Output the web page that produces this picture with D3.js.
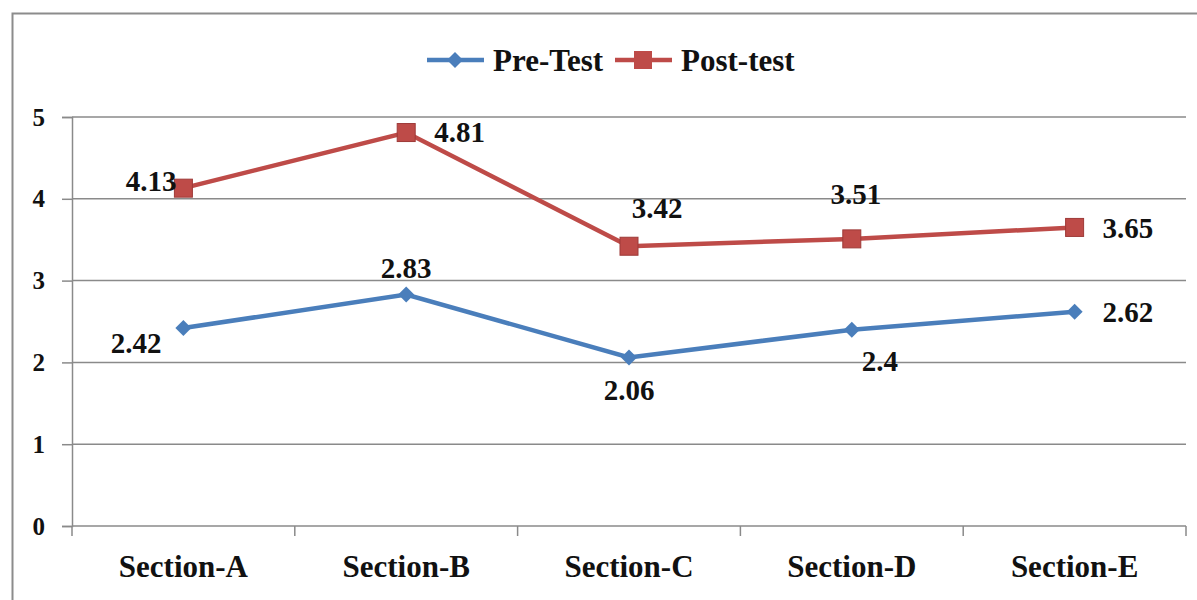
<!DOCTYPE html>
<html><head><meta charset="utf-8">
<script src="https://cdn.jsdelivr.net/npm/d3@7"></script>
<style>body{margin:0;background:#fff}svg{display:block}
svg text{font-family:"Liberation Serif","Times New Roman","DejaVu Serif",serif;font-weight:bold;fill:#111}</style>
</head><body>
<svg id="c" width="1197" height="600"></svg>
<script>
const categories = ["Section-A","Section-B","Section-C","Section-D","Section-E"];
const preTest = [2.42, 2.83, 2.06, 2.4, 2.62];
const postTest = [4.13, 4.81, 3.42, 3.51, 3.65];
const yTicks = [0,1,2,3,4,5];
const seriesNames = ["Pre-Test","Post-test"];
// label placement per point: [dx, dy, anchor]
const preLabelPos = [[-22,15,"end"],[0,-27,"middle"],[0,32,"middle"],[28,31,"middle"],[28,0,"start"]];
const postLabelPos = [[-7,-7,"end"],[28,-1,"start"],[28,-38,"middle"],[4,-45,"middle"],[28,0,"start"]];

const svg = d3.select("#c");
const m={l:72,r:1186,t:117,b:526};
const x = d3.scaleBand().domain(categories).range([m.l,m.r]);
const y = d3.scaleLinear().domain([0,5]).range([m.b,m.t]);
const blue="#4A7EBB", red="#BE4B48";

svg.append("rect").attr("x",12.5).attr("y",13.5).attr("width",1200).attr("height",600)
  .attr("fill","#fff").attr("stroke","#8c8c8c").attr("stroke-width",2);

// gridlines
svg.append("g").selectAll("line").data(yTicks.filter(d=>d>0)).join("line")
  .attr("x1",m.l).attr("x2",m.r).attr("y1",d=>y(d)).attr("y2",d=>y(d))
  .attr("stroke","#8a8a8a").attr("stroke-width",1.5);

// y axis
const ya = svg.append("g").attr("transform",`translate(${m.l},0)`)
  .call(d3.axisLeft(y).tickValues(yTicks).tickSize(10).tickPadding(17).tickFormat(d3.format("d")));
ya.attr("font-family",null).attr("font-size",null);
ya.select(".domain").attr("stroke","#8a8a8a").attr("stroke-width",1.5);
ya.selectAll(".tick line").attr("stroke","#8a8a8a").attr("stroke-width",1.5);
ya.selectAll("text").style("font-size","25px").attr("fill","#111");

// x axis
const xa = svg.append("g").attr("transform",`translate(0,${m.b})`)
  .call(d3.axisBottom(x).tickSize(0));
xa.attr("font-family",null).attr("font-size",null);
xa.select(".domain").remove();
xa.append("line").attr("x1",m.l).attr("x2",m.r).attr("stroke","#8a8a8a").attr("stroke-width",1.5);
xa.selectAll(".bt").data(d3.range(categories.length+1)).join("line").attr("class","bt")
  .attr("x1",i=>m.l+i*x.step()).attr("x2",i=>m.l+i*x.step()).attr("y1",0).attr("y2",10)
  .attr("stroke","#8a8a8a").attr("stroke-width",1.5);
xa.selectAll(".tick text").style("font-size","31px").attr("fill","#111").attr("y",51).attr("dy",null);

const cx = d=>x(d)+x.bandwidth()/2;
const line = d3.line().x(d=>cx(d.c)).y(d=>y(d.v));
const preData = categories.map((c,i)=>({c,v:preTest[i]}));
const postData = categories.map((c,i)=>({c,v:postTest[i]}));

svg.append("path").datum(preData).attr("d",line).attr("fill","none").attr("stroke",blue).attr("stroke-width",4.5);
svg.append("path").datum(postData).attr("d",line).attr("fill","none").attr("stroke",red).attr("stroke-width",4.5);

const diamond = (s)=>`M0,${-s}L${s},0L0,${s}L${-s},0Z`;
svg.append("g").selectAll("path").data(preData).join("path")
  .attr("transform",d=>`translate(${cx(d.c)},${y(d.v)})`).attr("d",diamond(8)).attr("fill",blue);
svg.append("g").selectAll("rect").data(postData).join("rect")
  .attr("x",d=>cx(d.c)-9).attr("y",d=>y(d.v)-9).attr("width",18).attr("height",18)
  .attr("fill",red).attr("stroke","#9e3a38").attr("stroke-width",1);

function labels(data,pos){
  svg.append("g").selectAll("text").data(data).join("text")
    .attr("x",(d,i)=>cx(d.c)+pos[i][0]).attr("y",(d,i)=>y(d.v)+pos[i][1])
    .attr("text-anchor",(d,i)=>pos[i][2]).attr("dy","0.35em")
    .style("font-size","29px")
    .text(d=>d.v);
}
labels(preData,preLabelPos);
labels(postData,postLabelPos);

// legend
const lg = svg.append("g");
const items=[{n:seriesNames[0],c:blue,x:427,t:"d"},{n:seriesNames[1],c:red,x:615,t:"s"}];
items.forEach(it=>{
  lg.append("line").attr("x1",it.x).attr("x2",it.x+57).attr("y1",60).attr("y2",60).attr("stroke",it.c).attr("stroke-width",4.5);
  if(it.t==="d") lg.append("path").attr("transform",`translate(${it.x+28},60)`).attr("d",diamond(8)).attr("fill",it.c);
  else lg.append("rect").attr("x",it.x+19).attr("y",51).attr("width",18).attr("height",18).attr("fill",it.c);
  lg.append("text").attr("x",it.x+66).attr("y",60).attr("dy","0.35em")
    .style("font-size","31px").text(it.n);
});
</script>
</body></html>
